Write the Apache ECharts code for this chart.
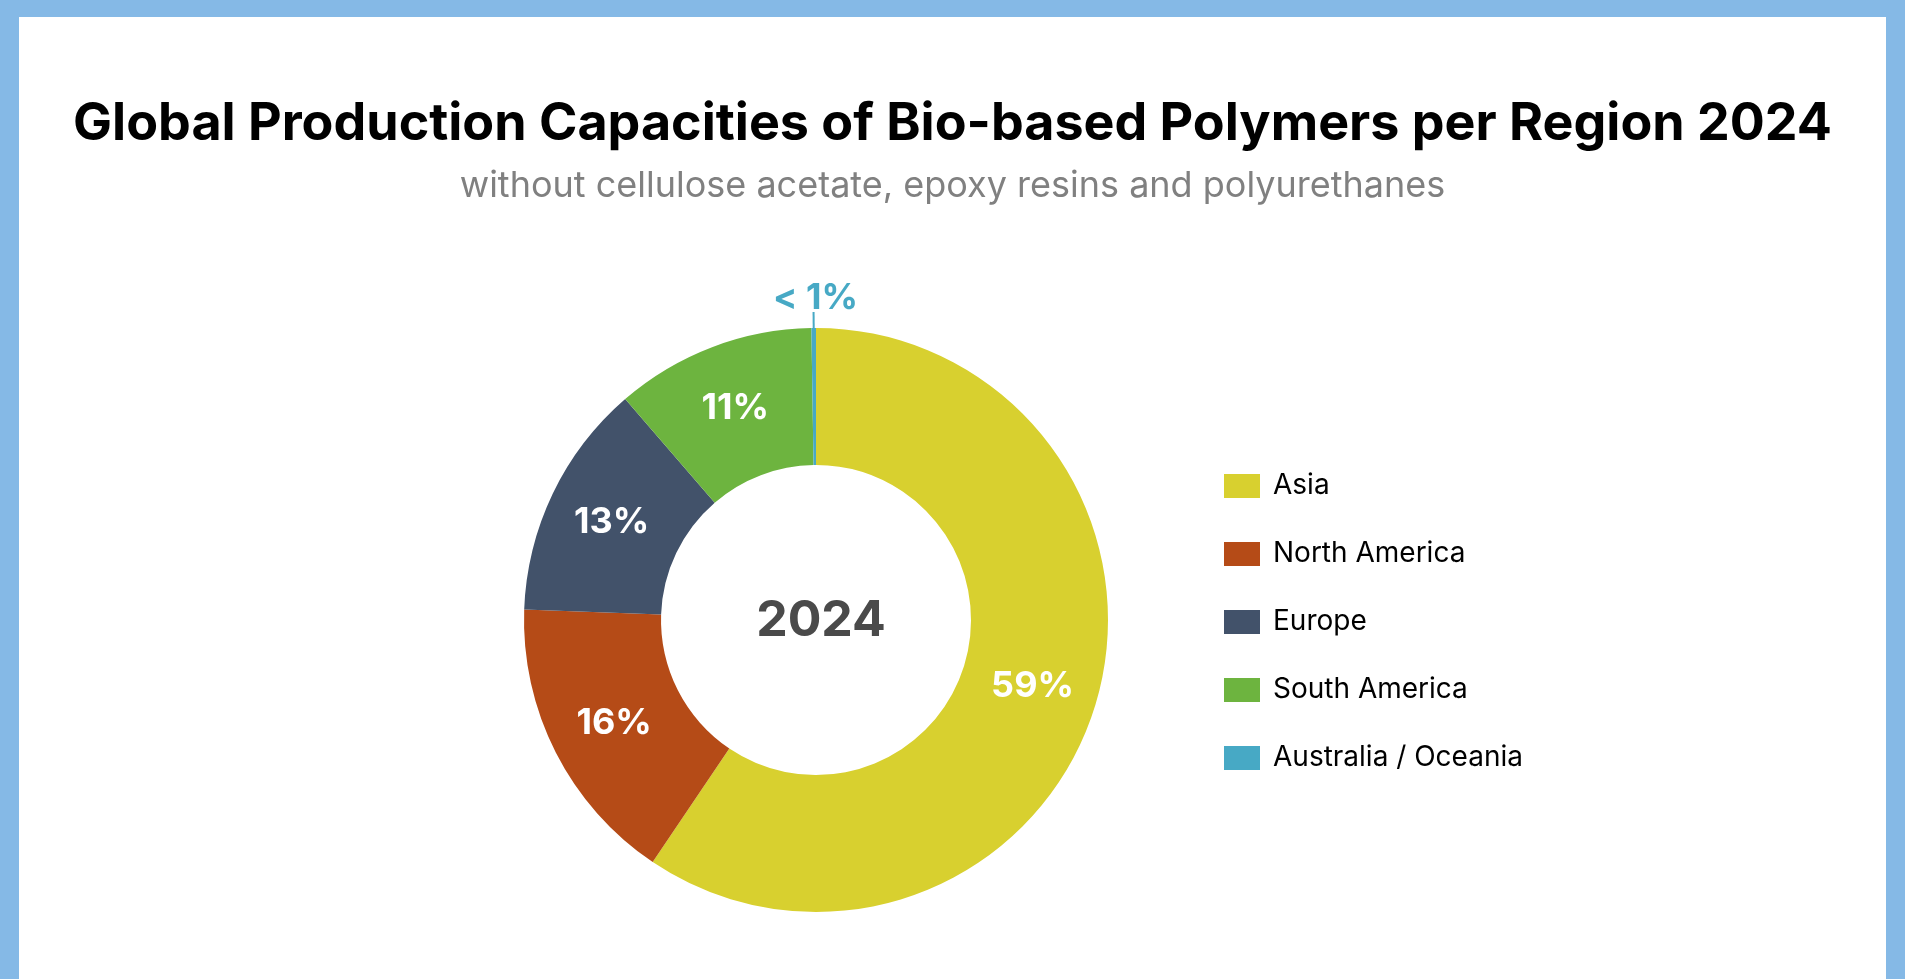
<!DOCTYPE html>
<html><head><meta charset="utf-8">
<script src="https://cdn.jsdelivr.net/npm/echarts@6/dist/echarts.min.js"></script>
<style>
html,body{margin:0;padding:0;width:1905px;height:979px;background:#85b9e6;overflow:hidden}
#c{position:absolute;left:19px;top:17px;width:1867px;height:962px;background:#fff}
</style></head><body><div id="c"></div>
<script>
const categories=['Asia','North America','Europe','South America','Australia / Oceania'];
const values=[59,16,13,11,0.25];
const labels=['59%','16%','13%','11%','< 1%'];
const colors=['#d8d02f','#b54b17','#42526a','#6db43f','#47a9c5'];
const chart=echarts.init(document.getElementById('c'));
const FF='Inter, Roboto, sans-serif';
chart.setOption({
  title:[{text:'Global Production Capacities of Bio-based Polymers per Region 2024',left:'center',top:76,
    textStyle:{fontFamily:FF,fontWeight:'bold',fontSize:52,color:'#000'}},
   {text:'without cellulose acetate, epoxy resins and polyurethanes',left:'center',top:146,
    textStyle:{fontFamily:FF,fontWeight:'normal',fontSize:36,color:'#808080'}},
   {text:'2024',left:797,top:599,textAlign:'center',textVerticalAlign:'middle',
    textStyle:{fontFamily:FF,fontWeight:'bold',fontSize:50,color:'#4a4a4a'}}],
  legend:{orient:'vertical',left:1200,top:450,itemWidth:36,itemHeight:24,itemGap:40,
    icon:'rect',textStyle:{fontFamily:FF,fontSize:28,color:'#000',padding:[0,0,0,8]},data:categories},
  series:[{type:'pie',center:[797,603],radius:[155,292],startAngle:90,clockwise:true,
    avoidLabelOverlap:false,silent:true,
    label:{position:'inside',color:'#fff',fontFamily:FF,fontWeight:'bold',fontSize:36,
      formatter:p=>labels[p.dataIndex]},
    labelLine:{show:false},
    labelLayout:function(p){
      if(p.dataIndex===4){return {dx:p.labelRect.width/2+2,dy:-14};}
      return {};
    },
    data:categories.map((n,i)=>{
      const d={name:n,value:values[i],itemStyle:{color:colors[i]}};
      if(i===4){d.label={position:'outside',color:colors[4],fontSize:36,distanceToLabelLine:0};
        d.labelLine={show:true,length:16,length2:0,lineStyle:{color:colors[4],width:2}};}
      return d;})
  }]
});
</script></body></html>
